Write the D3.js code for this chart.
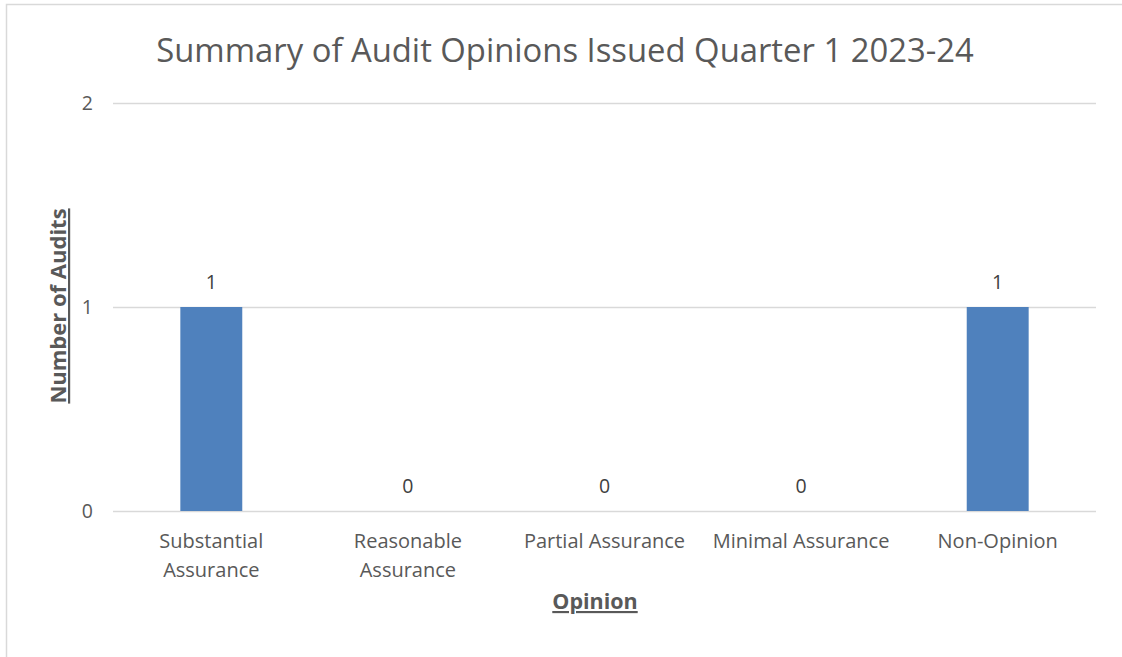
<!DOCTYPE html>
<html>
<head>
<meta charset="utf-8">
<script src="https://cdn.jsdelivr.net/npm/d3@7"></script>
<style>
  body { margin: 0; background: #fff; }
  svg { display: block; font-family: "Open Sans", "Noto Sans", sans-serif; }
</style>
</head>
<body>
<div id="chart"></div>
<script>
// values
const categories = [["Substantial", "Assurance"], ["Reasonable", "Assurance"], ["Partial Assurance"], ["Minimal Assurance"], ["Non-Opinion"]];
const audits = [1, 0, 0, 0, 1];
const yTicks = [0, 1, 2];

const width = 1122, height = 657;
const margin = {left: 113, right: 26, top: 103, bottom: 146};

const svg = d3.select("#chart").append("svg")
    .attr("width", width)
    .attr("height", height);

// chart area border
svg.append("rect")
    .attr("x", 6.5).attr("y", 4.5)
    .attr("width", width + 10).attr("height", height + 10)
    .attr("fill", "none")
    .attr("stroke", "#d9d9d9")
    .attr("stroke-width", 1.5);

const keys = categories.map(c => c.join(" "));

const x = d3.scaleBand()
    .domain(keys)
    .range([margin.left, width - margin.right]);

const y = d3.scaleLinear()
    .domain([0, 2])
    .range([height - margin.bottom, margin.top]);

const barW = x.bandwidth() * 0.315;

// gridlines
svg.append("g")
    .selectAll("line")
    .data(yTicks)
    .enter().append("line")
    .attr("x1", margin.left)
    .attr("x2", width - margin.right)
    .attr("y1", d => y(d) + 0.5)
    .attr("y2", d => y(d) + 0.5)
    .attr("stroke", "#d9d9d9")
    .attr("stroke-width", 1.5);

// y tick labels
svg.append("g")
    .selectAll("text")
    .data(yTicks)
    .enter().append("text")
    .attr("x", 93)
    .attr("y", d => y(d) + 7)
    .attr("text-anchor", "end")
    .attr("font-size", 19.5)
    .attr("fill", "#595959")
    .text(d => d);

// bars
svg.append("g")
    .selectAll("rect")
    .data(audits)
    .enter().append("rect")
    .attr("x", (d, i) => x(keys[i]) + (x.bandwidth() - barW) / 2)
    .attr("y", d => y(d))
    .attr("width", barW)
    .attr("height", d => y(0) - y(d))
    .attr("fill", "#4f81bd");

// data labels
svg.append("g")
    .selectAll("text")
    .data(audits)
    .enter().append("text")
    .attr("x", (d, i) => x(keys[i]) + x.bandwidth() / 2)
    .attr("y", d => y(d) - 18)
    .attr("text-anchor", "middle")
    .attr("font-size", 19.5)
    .attr("fill", "#404040")
    .text(d => d);

// category labels
const cat = svg.append("g")
    .selectAll("text")
    .data(categories)
    .enter().append("text")
    .attr("x", (d, i) => x(keys[i]) + x.bandwidth() / 2)
    .attr("y", 548)
    .attr("text-anchor", "middle")
    .attr("font-size", 20)
    .attr("fill", "#595959");

cat.selectAll("tspan")
    .data(d => d)
    .enter().append("tspan")
    .attr("x", function() { return d3.select(this.parentNode).attr("x"); })
    .attr("dy", (d, i) => i === 0 ? 0 : 29)
    .text(d => d);

// title
svg.append("text")
    .attr("x", 565)
    .attr("y", 62)
    .attr("text-anchor", "middle")
    .attr("font-size", 32.8)
    .attr("fill", "#595959")
    .text("Summary of Audit Opinions Issued Quarter 1 2023-24");

// axis titles
svg.append("text")
    .attr("x", 595)
    .attr("y", 609)
    .attr("text-anchor", "middle")
    .attr("font-size", 21.5)
    .attr("font-weight", "bold")
    .attr("text-decoration", "underline")
    .attr("fill", "#595959")
    .text("Opinion");

svg.append("text")
    .attr("transform", "translate(66,306) rotate(-90)")
    .attr("text-anchor", "middle")
    .attr("font-size", 22)
    .attr("font-weight", "bold")
    .attr("text-decoration", "underline")
    .attr("fill", "#595959")
    .text("Number of Audits");
</script>
</body>
</html>
